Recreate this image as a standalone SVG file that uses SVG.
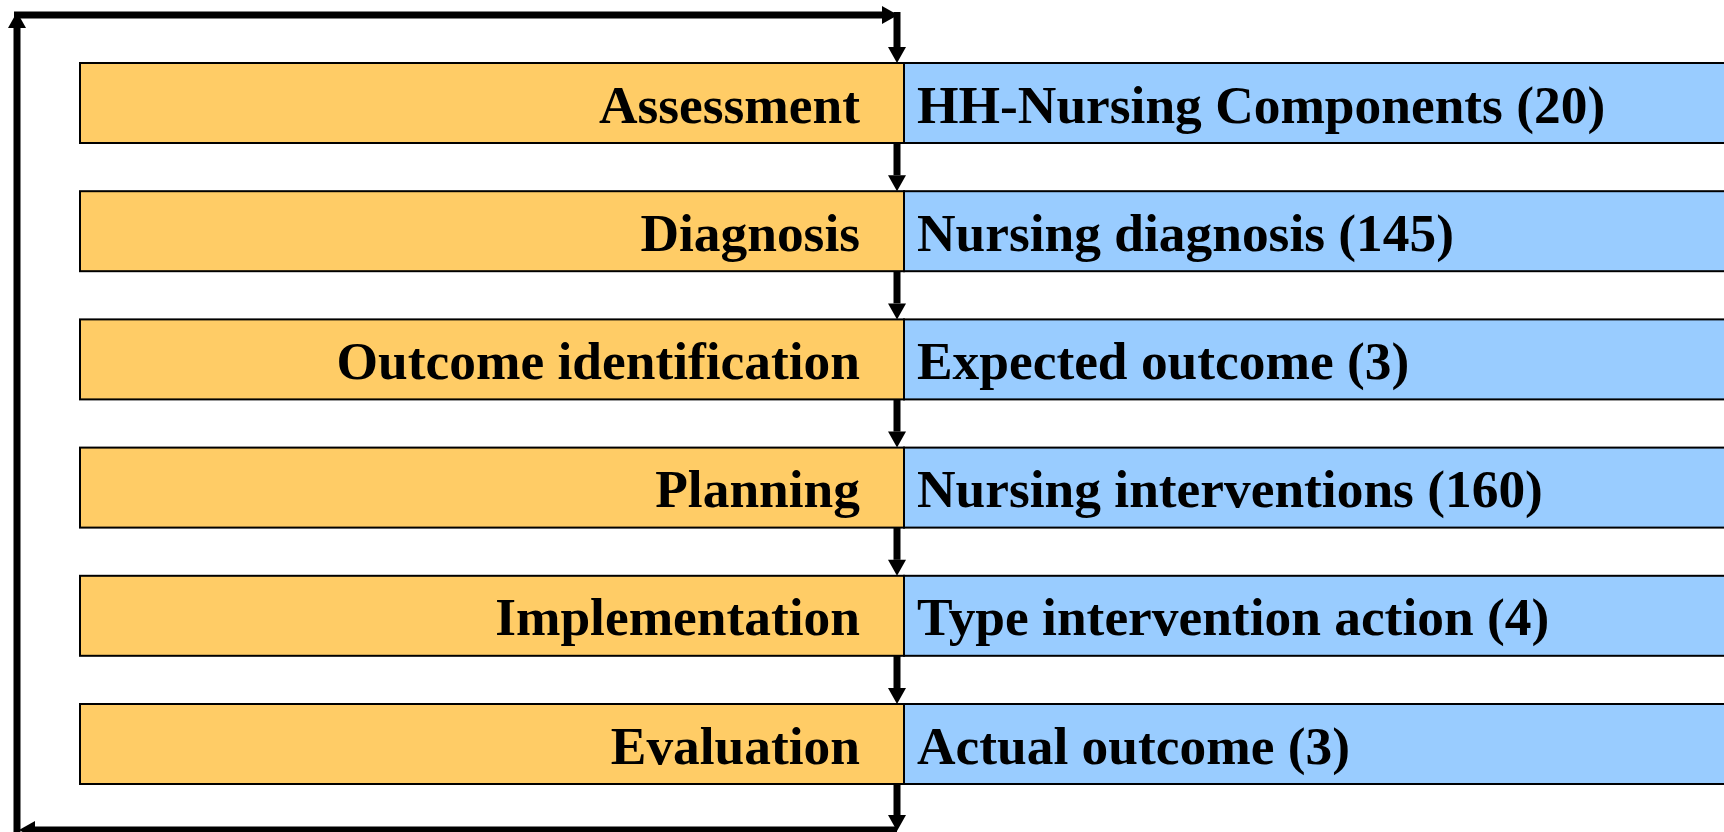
<svg xmlns="http://www.w3.org/2000/svg" width="1724" height="832" viewBox="0 0 1724 832">
<style>
.o{fill:#FFCC66;stroke:#000;stroke-width:2}
.b{fill:#99CCFF;stroke:#000;stroke-width:2}
.t{font-family:"Liberation Serif","Times New Roman",serif;font-weight:bold;font-size:53.4px;fill:#000}
.r{text-anchor:end}
.c{stroke:#000;stroke-width:7;fill:none}
</style>
<defs>
<marker id="ah" markerUnits="userSpaceOnUse" markerWidth="17" markerHeight="19" refX="0" refY="9" orient="auto" overflow="visible">
<path d="M0,0 L16,9 L0,18 z" fill="#000"/>
</marker>
</defs>
<rect width="1724" height="832" fill="#fff"/>
<g id="connectors">
<line class="c" x1="897" y1="830" x2="35" y2="830" marker-end="url(#ah)"/>
<line class="c" x1="17" y1="832" x2="17" y2="28" marker-end="url(#ah)"/>
<line class="c" x1="14" y1="15" x2="882" y2="15" marker-end="url(#ah)"/>
<line class="c" x1="897" y1="12" x2="897" y2="47" marker-end="url(#ah)"/>
<line class="c" x1="897" y1="143" x2="897" y2="175.2" marker-end="url(#ah)"/>
<line class="c" x1="897" y1="271.2" x2="897" y2="303.4" marker-end="url(#ah)"/>
<line class="c" x1="897" y1="399.4" x2="897" y2="431.6" marker-end="url(#ah)"/>
<line class="c" x1="897" y1="527.6" x2="897" y2="559.8" marker-end="url(#ah)"/>
<line class="c" x1="897" y1="655.8" x2="897" y2="688" marker-end="url(#ah)"/>
<line class="c" x1="897" y1="784" x2="897" y2="815" marker-end="url(#ah)"/>
</g>
<g id="assessment">
<rect class="o" x="80" y="63" width="824" height="80"/>
<text class="t r" x="860" y="122.5">Assessment</text>
</g>
<g id="hh-nursing-components">
<rect class="b" x="904" y="63" width="830" height="80"/>
<text class="t" x="917" y="122.5">HH-Nursing Components (20)</text>
</g>
<g id="diagnosis">
<rect class="o" x="80" y="191.2" width="824" height="80"/>
<text class="t r" x="860" y="250.7">Diagnosis</text>
</g>
<g id="nursing-diagnosis">
<rect class="b" x="904" y="191.2" width="830" height="80"/>
<text class="t" x="917" y="250.7">Nursing diagnosis (145)</text>
</g>
<g id="outcome-identification">
<rect class="o" x="80" y="319.4" width="824" height="80"/>
<text class="t r" x="860" y="378.9">Outcome identification</text>
</g>
<g id="expected-outcome">
<rect class="b" x="904" y="319.4" width="830" height="80"/>
<text class="t" x="917" y="378.9">Expected outcome (3)</text>
</g>
<g id="planning">
<rect class="o" x="80" y="447.6" width="824" height="80"/>
<text class="t r" x="860" y="507.1">Planning</text>
</g>
<g id="nursing-interventions">
<rect class="b" x="904" y="447.6" width="830" height="80"/>
<text class="t" x="917" y="507.1">Nursing interventions (160)</text>
</g>
<g id="implementation">
<rect class="o" x="80" y="575.8" width="824" height="80"/>
<text class="t r" x="860" y="635.3">Implementation</text>
</g>
<g id="type-intervention-action">
<rect class="b" x="904" y="575.8" width="830" height="80"/>
<text class="t" x="917" y="635.3">Type intervention action (4)</text>
</g>
<g id="evaluation">
<rect class="o" x="80" y="704" width="824" height="80"/>
<text class="t r" x="860" y="763.5">Evaluation</text>
</g>
<g id="actual-outcome">
<rect class="b" x="904" y="704" width="830" height="80"/>
<text class="t" x="917" y="763.5">Actual outcome (3)</text>
</g>
</svg>
